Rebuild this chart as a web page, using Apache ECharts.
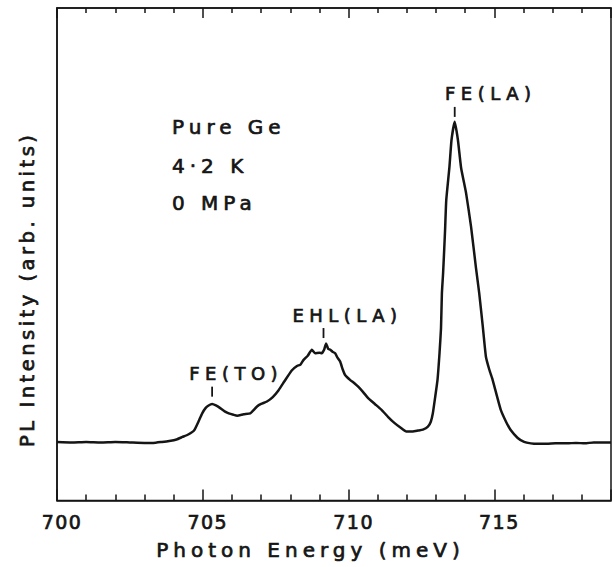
<!DOCTYPE html>
<html>
<head>
<meta charset="utf-8">
<script src="https://cdn.jsdelivr.net/npm/echarts@6/dist/echarts.min.js"></script>
<style>
  html, body { margin: 0; padding: 0; background: #fff; }
  #chart { width: 614px; height: 567px; }
  /* spaced-out lettering like the original figure */
  #chart text[style*="19px"] { letter-spacing: 1.5px; }
  #chart text[style*="20px"] { letter-spacing: 5px; }
  #chart text[style*="19.5px"] { letter-spacing: 3.5px; }
  #chart text[style*="18px"] { letter-spacing: 5.5px; }
</style>
</head>
<body>
<div id="chart"></div>
<script>
// photon energy (meV) and PL intensity (arb. units)
const energy = [
  700.0, 700.5, 701.0, 701.5, 702.0, 702.5, 703.0, 703.3, 703.6, 703.85,
  704.1, 704.3, 704.5, 704.7, 704.85, 704.98, 705.1, 705.2, 705.32, 705.45,
  705.61, 705.75, 705.89, 706.05, 706.18, 706.4, 706.63, 706.75, 706.86, 707.0,
  707.2, 707.4, 707.6, 707.8, 708.05, 708.23, 708.35, 708.45, 708.6, 708.74,
  708.85, 709.0, 709.08, 709.16, 709.23, 709.3, 709.37, 709.45, 709.54, 709.62,
  709.71, 709.8, 709.88, 710.05, 710.2, 710.33, 710.5, 710.67, 710.9, 711.13,
  711.35, 711.58, 711.8, 711.98, 712.2, 712.38, 712.55, 712.72, 712.82, 712.89,
  712.97, 713.05, 713.12, 713.17, 713.2, 713.24, 713.28, 713.31, 713.35, 713.46,
  713.53, 713.64, 713.75, 713.86, 714.03, 714.2, 714.37, 714.48, 714.6, 714.71,
  714.83, 714.94, 715.08, 715.22, 715.4, 715.56, 715.8, 716.02, 716.25, 716.47,
  716.8, 717.1, 717.5, 717.8, 718.1, 718.4, 718.63, 719.0
];
const intensity = [
  11.9, 11.8, 11.9, 11.8, 11.9, 11.8, 11.7, 11.7, 11.9, 12.1,
  12.4, 12.9, 13.4, 14.2, 16.0, 17.7, 18.8, 19.3, 19.6, 19.3,
  18.7, 18.1, 17.7, 17.4, 17.2, 17.5, 17.7, 18.4, 19.1, 19.6,
  20.1, 21.0, 22.4, 24.2, 26.4, 27.3, 27.6, 28.5, 29.4, 30.6,
  29.9, 30.0, 29.9, 30.6, 31.9, 30.8, 30.6, 30.2, 29.9, 29.0,
  28.2, 26.6, 25.5, 24.5, 23.8, 23.1, 22.0, 20.8, 19.6, 18.4,
  17.0, 15.7, 14.7, 14.0, 14.0, 14.2, 14.4, 15.0, 16.0, 17.7,
  21.0, 24.5, 30.0, 35.0, 42.0, 46.0, 51.0, 55.0, 61.0, 67.8,
  73.2, 76.9, 73.2, 67.5, 62.4, 55.6, 47.2, 42.1, 35.5, 29.2,
  26.5, 24.5, 21.4, 18.4, 16.0, 14.3, 12.7, 11.9, 11.6, 11.5,
  11.5, 11.6, 11.6, 11.7, 11.6, 11.8, 11.8, 11.8
];

// peak assignments: marker position (energy, intensity)
const peakNames = ["FE(TO)", "EHL(LA)", "FE(LA)"];
const peakEnergy = [705.32, 709.14, 713.64];
const peakMarkY = [22.1, 34.0, 78.9];

const sampleInfo = ["Pure Ge", "4·2 K", "0 MPa"];

const xTicks = [700, 705, 710, 715];

const FONT = '"DejaVu Sans", sans-serif';
const INK = "#151515";

const chart = echarts.init(document.getElementById("chart"), null, {
  renderer: "svg",
});

const labelShift = [24, 24, 36];
// thicken the thin glyphs a bit, the scan is heavy-inked
const heavy = { textBorderColor: INK, textBorderWidth: 0.7 };

const option = {
  animation: false,
  grid: {
    left: 57,
    right: 1,
    top: 8,
    bottom: 66.5,
    show: true,
    borderColor: INK,
    borderWidth: 1.5,
  },
  xAxis: [
    {
      type: "value",
      min: 700,
      max: 719,
      interval: 5,
      position: "bottom",
      axisLine: { lineStyle: { color: INK, width: 1.5 } },
      axisTick: { inside: true, length: 11, lineStyle: { color: INK, width: 1.5 } },
      minorTick: { show: true, splitNumber: 5, length: 6, lineStyle: { color: INK, width: 1.5 } },
      splitLine: { show: false },
      axisLabel: {
        color: INK,
        fontSize: 19,
        fontFamily: FONT,
        margin: 12,
        padding: [0, 0, 0, 10],
        ...heavy,
        formatter: (v) => (xTicks.includes(v) ? String(v) : ""),
      },
      name: "Photon Energy (meV)",
      nameLocation: "middle",
      nameGap: 39,
      nameTextStyle: {
        color: INK,
        fontSize: 20,
        fontFamily: FONT,
        padding: [0, 47, 0, 0],
        ...heavy,
      },
    },
    {
      type: "value",
      min: 700,
      max: 719,
      interval: 5,
      position: "top",
      axisLine: { lineStyle: { color: INK, width: 1.5 } },
      axisTick: { inside: true, length: 10, lineStyle: { color: INK, width: 1.5 } },
      minorTick: { show: true, splitNumber: 5, length: 5, lineStyle: { color: INK, width: 1.5 } },
      splitLine: { show: false },
      axisLabel: { show: false },
    },
  ],
  yAxis: {
    type: "value",
    min: 0,
    max: 100,
    axisLine: { show: true, lineStyle: { color: INK, width: 1.5 } },
    axisTick: { show: false },
    axisLabel: { show: false },
    splitLine: { show: false },
    name: "PL Intensity (arb. units)",
    nameLocation: "middle",
    nameRotate: 90,
    nameGap: 20,
    nameTextStyle: {
      color: INK,
      fontSize: 19.5,
      fontFamily: FONT,
      padding: [0, 70, 0, 0],
      ...heavy,
    },
  },
  graphic: sampleInfo.map((t, i) => ({
    type: "text",
    x: 172,
    y: [127, 166, 203][i],
    style: {
      text: t,
      fontSize: 20,
      fontFamily: FONT,
      fill: INK,
      stroke: INK,
      lineWidth: 0.7,
      verticalAlign: "middle",
    },
  })),
  series: [
    {
      type: "line",
      data: energy.map((e, i) => [e, intensity[i]]),
      showSymbol: false,
      smooth: 0.15,
      lineStyle: { color: INK, width: 2.5 },
      z: 3,
    },
    {
      type: "scatter",
      data: peakNames.map((n, i) => ({
        name: n,
        value: [peakEnergy[i], peakMarkY[i]],
        label: { offset: [labelShift[i], 0] },
      })),
      symbol: "rect",
      symbolSize: [1.8, 10],
      itemStyle: { color: INK, opacity: 1 },
      label: {
        show: true,
        position: "top",
        distance: 4,
        formatter: (p) => p.name,
        color: INK,
        fontSize: 18,
        fontFamily: FONT,
        ...heavy,
      },
      z: 4,
    },
  ],
};

chart.setOption(option);
</script>
</body>
</html>
